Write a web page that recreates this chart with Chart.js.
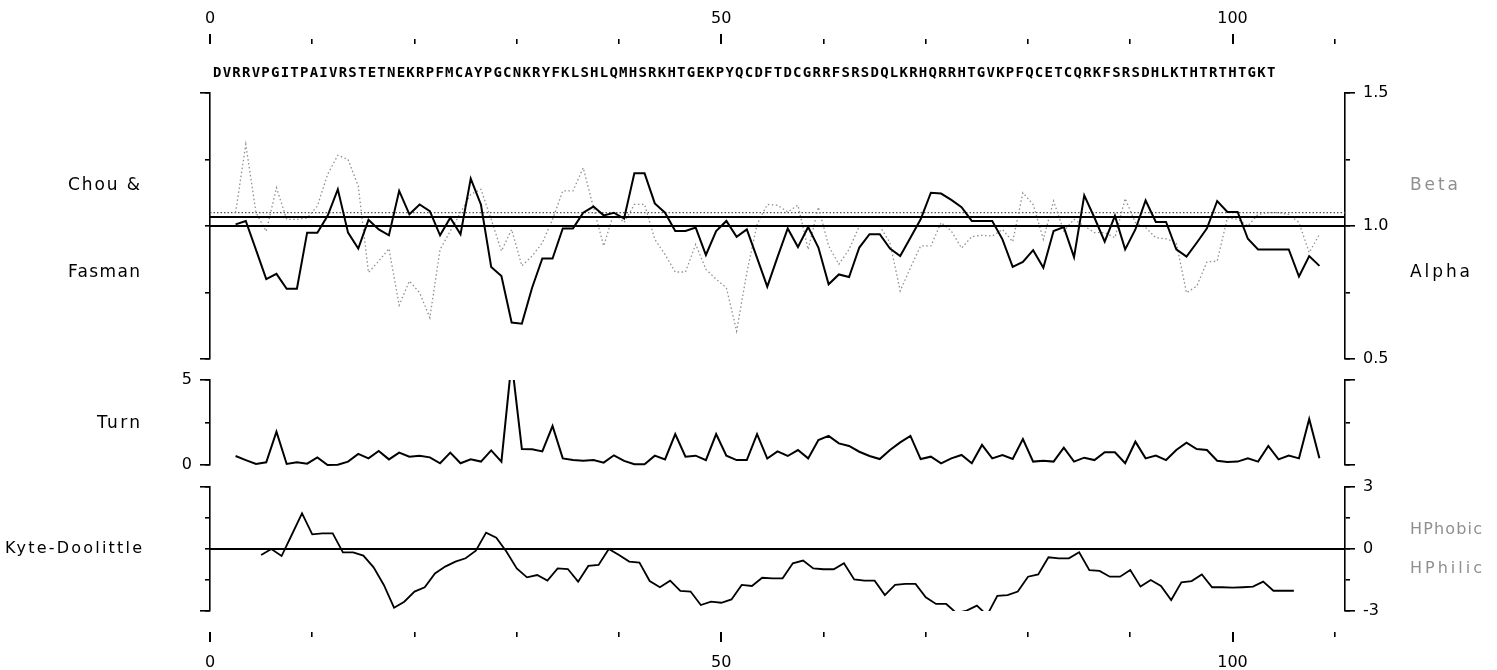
<!DOCTYPE html>
<html lang="en">
<head>
<meta charset="utf-8">
<title>Chou &amp; Fasman, turn and Kyte-Doolittle profile</title>
<script src="https://cdn.jsdelivr.net/npm/chart.js@4.4.1/dist/chart.umd.min.js"></script>
<style>
  html, body { margin: 0; padding: 0; background: #ffffff; }
  canvas { display: block; }
</style>
</head>
<body>
<canvas id="profile" width="1497" height="670"></canvas>
<script>
// ---------------- data ----------------
const sequence = 'DVRRVPGITPAIVRSTETNEKRPFMCAYPGCNKRYFKLSHLQMHSRKHTGEKPYQCDFTDCGRRFSRSDQLKRHQRRHTGVKPFQCETCQRKFSRSDHLKTHTRTHTGKT';

const positionTicks = [0, 10, 20, 30, 40, 50, 60, 70, 80, 90, 100, 110];
const positionLabels = [0, 50, 100];
const positionRange = [0, 111];

// Chou & Fasman propensities (window averaged), residues 3..109
const chouTicks = [0.5, 0.75, 1.0, 1.25, 1.5];
const chouTickLabels = [0.5, 1.0, 1.5];
const chouFirstResidue = 3;
const alphaValues = [
  1.006, 1.019, 0.91, 0.80, 0.82, 0.764, 0.764, 0.975, 0.975, 1.038,
  1.138, 0.975, 0.915, 1.023, 0.987, 0.965, 1.132, 1.044, 1.081, 1.056,
  0.965, 1.031, 0.969, 1.178, 1.08, 0.846, 0.812, 0.637, 0.633, 0.768,
  0.878, 0.878, 0.991, 0.991, 1.05, 1.073, 1.04, 1.05, 1.028, 1.198,
  1.198, 1.085, 1.05, 0.981, 0.981, 0.994, 0.891, 0.981, 1.019, 0.959,
  0.987, 0.88, 0.772, 0.883, 0.991, 0.921, 0.996, 0.919, 0.781, 0.818,
  0.808, 0.919, 0.969, 0.969, 0.915, 0.887, 0.956, 1.025, 1.125, 1.122,
  1.098, 1.071, 1.019, 1.019, 1.019, 0.95, 0.846, 0.865, 0.909, 0.843,
  0.981, 0.996, 0.883, 1.115, 1.031, 0.941, 1.038, 0.912, 0.987, 1.096,
  1.015, 1.015, 0.912, 0.885, 0.937, 0.991, 1.094, 1.053, 1.053, 0.952,
  0.912, 0.912, 0.912, 0.912, 0.81, 0.887, 0.85
];
const betaValues = [
  1.05, 1.307, 1.05, 0.98, 1.144, 1.025, 1.025, 1.03, 1.075, 1.194,
  1.266, 1.25, 1.15, 0.825, 0.868, 0.915, 0.702, 0.793, 0.749, 0.655,
  0.912, 0.981, 1.05, 1.119, 1.138, 1.025, 0.906, 0.987, 0.85, 0.887,
  0.937, 1.025, 1.132, 1.132, 1.219, 1.07, 0.925, 1.05, 1.013, 1.081,
  1.081, 0.95, 0.893, 0.827, 0.827, 0.931, 0.837, 0.8, 0.768, 0.605,
  0.825, 1.006, 1.081, 1.078, 1.053, 1.078, 0.912, 1.071, 0.925, 0.856,
  0.912, 1.0, 1.0, 1.0, 0.937, 0.756, 0.843, 0.925, 0.925, 1.013,
  0.981, 0.917, 0.96, 0.965, 0.962, 0.987, 0.941, 1.125, 1.081, 0.95,
  1.094, 0.981, 1.025, 1.0, 0.975, 0.975, 0.956, 1.103, 1.013, 0.994,
  0.956, 0.952, 0.937, 0.749, 0.774, 0.865, 0.868, 1.031, 1.025, 1.0,
  1.044, 1.05, 1.05, 1.044, 1.013, 0.9, 0.969
];
const alphaAverage = 1.034;
const betaAverage = 1.05;
const chouBaseline = 1.0;

// Turn probability, residues 3..109
const turnTicks = [0, 2.5, 5];
const turnTickLabels = [0, 5];
const turnFirstResidue = 3;
const turnValues = [
  0.53, 0.29, 0.06, 0.16, 1.96, 0.06, 0.16, 0.08, 0.45, 0.0,
  0.02, 0.2, 0.65, 0.39, 0.82, 0.33, 0.73, 0.49, 0.55, 0.45,
  0.1, 0.73, 0.1, 0.33, 0.2, 0.86, 0.2, 6.1, 0.94, 0.92,
  0.8, 2.29, 0.39, 0.29, 0.25, 0.29, 0.14, 0.57, 0.24, 0.04,
  0.04, 0.55, 0.33, 1.82, 0.49, 0.55, 0.29, 1.82, 0.55, 0.29,
  0.29, 1.82, 0.38, 0.8, 0.53, 0.88, 0.39, 1.47, 1.71, 1.27,
  1.12, 0.78, 0.53, 0.35, 0.88, 1.33, 1.71, 0.35, 0.49, 0.1,
  0.39, 0.59, 0.1, 1.18, 0.39, 0.59, 0.35, 1.53, 0.2, 0.25,
  0.2, 1.02, 0.2, 0.43, 0.29, 0.75, 0.75, 0.1, 1.37, 0.39,
  0.55, 0.29, 0.88, 1.31, 0.94, 0.88, 0.25, 0.18, 0.2, 0.39,
  0.2, 1.12, 0.33, 0.55, 0.39, 2.71, 0.39
];

// Kyte-Doolittle hydropathy, positions 5..106
const kdTicks = [-3, -1.5, 0, 1.5, 3];
const kdTickLabels = [-3, 0, 3];
const kdFirstPosition = 5;
const kdValues = [
  -0.29, 0.0, -0.34, 0.69, 1.73, 0.71, 0.76, 0.76, -0.16, -0.16,
  -0.32, -0.89, -1.74, -2.84, -2.55, -2.06, -1.85, -1.18, -0.85, -0.61,
  -0.45, -0.08, 0.79, 0.55, -0.13, -0.94, -1.37, -1.26, -1.53, -0.94,
  -0.97, -1.58, -0.82, -0.77, 0.0, -0.29, -0.61, -0.66, -1.55, -1.85,
  -1.53, -2.03, -2.06, -2.71, -2.55, -2.6, -2.44, -1.74, -1.79, -1.39,
  -1.42, -1.42, -0.69, -0.56, -0.94, -0.98, -0.98, -0.69, -1.47, -1.53,
  -1.53, -2.23, -1.74, -1.69, -1.69, -2.34, -2.66, -2.66, -3.1, -2.98,
  -2.74, -3.2, -2.27, -2.23, -2.06, -1.34, -1.23, -0.4, -0.45, -0.45,
  -0.16, -1.02, -1.06, -1.34, -1.34, -1.02, -1.82, -1.5, -1.79, -2.47,
  -1.61, -1.55, -1.23, -1.85, -1.85, -1.87, -1.85, -1.82, -1.58, -2.02,
  -2.02, -2.02
];
const kdBaseline = 0;

// ---------------- layout ----------------
const frame = { width: 1497, height: 670, left: 210, right: 1345, topAxis: 44, bottomAxis: 632 };
const panels = { chou: [93, 359], turn: [380, 465], kd: [487, 611] };
const INK = '#000000';
const PALE = '#8f8f8f';
const SANS = '"DejaVu Sans", "Liberation Sans", sans-serif';
const MONO = '"DejaVu Sans Mono", "Liberation Mono", monospace';

// residue-centred series (residue r sits at r - 0.5) and position series
const residueSeries = (first, values) => values.map((v, i) => ({ x: first + i - 0.5, y: v }));
const positionSeries = (first, values) => values.map((v, i) => ({ x: first + i, y: v }));
const levelLine = (y) => [{ x: positionRange[0], y }, { x: positionRange[1], y }];

// ---------------- scales ----------------
const scales = {};
const scaleBoxes = {};

scales.x = { type: 'linear', display: false, min: positionRange[0], max: positionRange[1], clip: false };
scaleBoxes.x = { left: frame.left, right: frame.right, top: panels.kd[1], bottom: panels.kd[1] };

function positionAxis(id, position, values, tickLength, labelled) {
  scales[id] = {
    type: 'linear', position, clip: false,
    min: positionRange[0], max: positionRange[1],
    afterBuildTicks: (s) => { s.ticks = values.map((v) => ({ value: v })); },
    afterFit: (s) => { s.height = 0; },
    border: { display: false },
    grid: { display: true, drawOnChartArea: false, drawTicks: true, tickLength,
            color: INK, lineWidth: labelled ? 2 : 1.6 },
    ticks: { display: labelled, padding: position === 'top' ? 6 : 11, color: INK,
             font: { family: SANS, size: 16 }, maxRotation: 0, autoSkip: false,
             callback: (v) => String(v) }
  };
  scaleBoxes[id] = position === 'top'
    ? { left: frame.left, right: frame.right, top: 0, bottom: frame.topAxis }
    : { left: frame.left, right: frame.right, top: frame.bottomAxis, bottom: frame.height };
}
positionAxis('xTopMinor', 'top', positionTicks, 5, false);
positionAxis('xTopMajor', 'top', positionLabels, 10, true);
positionAxis('xBottomMinor', 'bottom', positionTicks, 5, false);
positionAxis('xBottomMajor', 'bottom', positionLabels, 10, true);

function valueAxis(id, panel, side, range, values, tickLength, opts) {
  scales[id] = {
    type: 'linear', position: side, clip: false,
    min: range[0], max: range[1],
    afterBuildTicks: (s) => { s.ticks = values.map((v) => ({ value: v })); },
    afterFit: (s) => { s.width = 0; },
    border: { display: !!opts.border, color: INK, width: 1.6 },
    grid: { display: true, drawOnChartArea: false, drawTicks: true, tickLength,
            color: INK, lineWidth: 1.6 },
    ticks: { display: !!opts.format, padding: 8, color: INK,
             font: { family: SANS, size: 16 }, autoSkip: false,
             callback: (v) => (opts.format ? opts.format(v) : '') }
  };
  scaleBoxes[id] = side === 'left'
    ? { left: 0, right: frame.left, top: panels[panel][0], bottom: panels[panel][1] }
    : { left: frame.right, right: frame.width, top: panels[panel][0], bottom: panels[panel][1] };
}
const oneDecimal = (v) => v.toFixed(1);
const whole = (v) => String(v);
const chouRange = [chouTicks[0], chouTicks[chouTicks.length - 1]];
const turnRange = [turnTicks[0], turnTicks[turnTicks.length - 1]];
const kdRange = [kdTicks[0], kdTicks[kdTicks.length - 1]];

valueAxis('chouL', 'chou', 'left', chouRange, chouTicks, 5, { border: true });
valueAxis('chouLEnds', 'chou', 'left', chouRange, [chouRange[0], chouRange[1]], 10, {});
valueAxis('chouR', 'chou', 'right', chouRange, chouTicks, 5, { border: true });
valueAxis('chouREnds', 'chou', 'right', chouRange, chouTickLabels, 10, { format: oneDecimal });

valueAxis('turnL', 'turn', 'left', turnRange, turnTicks, 5, { border: true });
valueAxis('turnLEnds', 'turn', 'left', turnRange, turnTickLabels, 10, { format: whole });
valueAxis('turnR', 'turn', 'right', turnRange, turnTicks, 5, { border: true });
valueAxis('turnREnds', 'turn', 'right', turnRange, [turnRange[0], turnRange[1]], 10, {});

valueAxis('kdL', 'kd', 'left', kdRange, kdTicks, 5, { border: true });
valueAxis('kdLEnds', 'kd', 'left', kdRange, [kdRange[0], kdRange[1]], 10, {});
valueAxis('kdR', 'kd', 'right', kdRange, kdTicks, 5, { border: true });
valueAxis('kdREnds', 'kd', 'right', kdRange, kdTickLabels, 10, { format: whole });

// Put every scale on its own band of the canvas once Chart.js has laid out.
const bandLayout = {
  id: 'bandLayout',
  afterLayout(chart) {
    for (const [id, box] of Object.entries(scaleBoxes)) {
      const s = chart.scales[id];
      if (!s) continue;
      s.left = box.left; s.right = box.right; s.top = box.top; s.bottom = box.bottom;
      s.width = box.right - box.left; s.height = box.bottom - box.top;
      s.configure();
      s._gridLineItems = null;
      s._labelItems = null;
    }
  }
};

// Fit a string into a given width by adjusting the spacing between letters.
function spacedText(ctx, text, left, y, width, font, color) {
  ctx.font = font;
  ctx.fillStyle = color;
  ctx.textAlign = 'left';
  ctx.textBaseline = 'middle';
  ctx.letterSpacing = '0px';
  const natural = ctx.measureText(text).width;
  const gap = text.length > 1 ? (width - natural) / (text.length - 1) : 0;
  ctx.letterSpacing = gap.toFixed(2) + 'px';
  ctx.fillText(text, left, y);
  ctx.letterSpacing = '0px';
}

const captions = {
  id: 'captions',
  afterDraw(chart) {
    const ctx = chart.ctx;
    ctx.save();
    spacedText(ctx, sequence, 213, 73, 1062, 'bold 14px ' + MONO, INK);
    const label = '17px ' + SANS;
    spacedText(ctx, 'Chou &', 68, 186, 72, label, INK);
    spacedText(ctx, 'Fasman', 68, 273, 72, label, INK);
    spacedText(ctx, 'Turn', 97, 424, 43, label, INK);
    spacedText(ctx, 'Kyte-Doolittle', 5, 549, 137, '16px ' + SANS, INK);
    spacedText(ctx, 'Beta', 1410, 186, 48, label, PALE);
    spacedText(ctx, 'Alpha', 1410, 273, 60, label, INK);
    spacedText(ctx, 'HPhobic', 1410, 530, 72, '16px ' + SANS, PALE);
    spacedText(ctx, 'HPhilic', 1410, 569, 72, '16px ' + SANS, PALE);
    ctx.restore();
  }
};

const turnClip = { left: 0, right: 0, top: -(panels.turn[0] - panels.chou[0]), bottom: 0 };

new Chart(document.getElementById('profile'), {
  type: 'line',
  data: {
    datasets: [
      { label: 'Alpha', data: residueSeries(chouFirstResidue, alphaValues), yAxisID: 'chouR',
        borderColor: INK, borderWidth: 2, order: 1 },
      { label: 'Beta', data: residueSeries(chouFirstResidue, betaValues), yAxisID: 'chouR',
        borderColor: PALE, borderWidth: 1.3, borderDash: [1.5, 2.5], order: 4 },
      { label: 'Alpha average', data: levelLine(alphaAverage), yAxisID: 'chouR',
        borderColor: INK, borderWidth: 2, order: 2 },
      { label: 'Beta average', data: levelLine(betaAverage), yAxisID: 'chouR',
        borderColor: '#555555', borderWidth: 1.3, borderDash: [1.5, 2], order: 5 },
      { label: 'Neutral', data: levelLine(chouBaseline), yAxisID: 'chouR',
        borderColor: INK, borderWidth: 2, order: 3 },
      { label: 'Turn', data: residueSeries(turnFirstResidue, turnValues), yAxisID: 'turnL',
        borderColor: INK, borderWidth: 2, clip: turnClip, order: 1 },
      { label: 'Kyte-Doolittle', data: positionSeries(kdFirstPosition, kdValues), yAxisID: 'kdR',
        borderColor: INK, borderWidth: 1.8, order: 1 },
      { label: 'Hydropathy zero', data: levelLine(kdBaseline), yAxisID: 'kdR',
        borderColor: INK, borderWidth: 2, order: 2 }
    ].map((d) => Object.assign({ xAxisID: 'x', pointRadius: 0, tension: 0, fill: false,
                                 borderJoinStyle: 'miter' }, d))
  },
  options: {
    responsive: false,
    animation: false,
    devicePixelRatio: 1,
    layout: { padding: { left: frame.left, right: frame.width - frame.right,
                         top: panels.chou[0], bottom: frame.height - panels.kd[1] } },
    plugins: { legend: { display: false }, tooltip: { enabled: false } },
    scales
  },
  plugins: [bandLayout, captions]
});
</script>
</body>
</html>
